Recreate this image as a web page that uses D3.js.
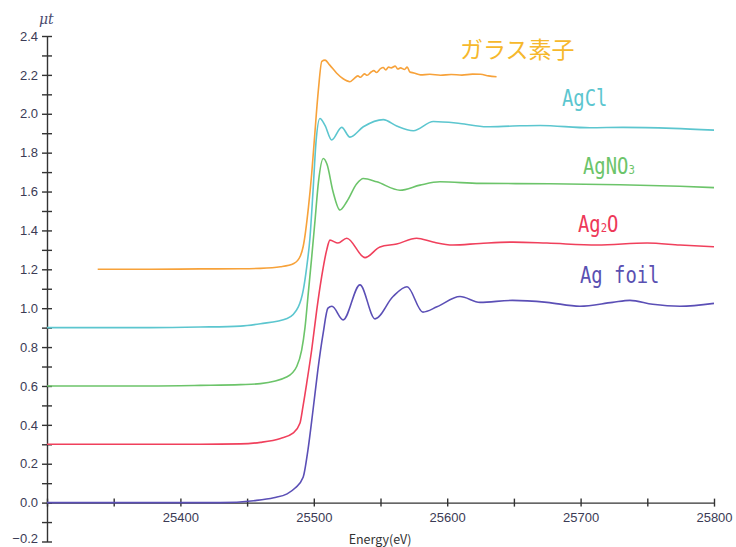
<!DOCTYPE html>
<html>
<head>
<meta charset="utf-8">
<script src="https://cdn.jsdelivr.net/npm/d3@7"></script>
<style>
  body { margin: 0; background: #fff; }
  svg { display: block; }
  .axis path, .axis line { stroke: #333; stroke-width: 1.4; }
  .axis text { font-family: "Liberation Sans", Arial, sans-serif; font-size: 13px; fill: #3b3b55; }
</style>
</head>
<body>
<div id="vis"></div>
<script>
// energies (eV) and mu*t values, one pair of arrays per sample
var glassE  = [25338, 25377, 25415, 25445, 25460, 25475, 25485, 25490, 25492, 25496, 25498.4, 25500.4, 25503.4, 25506, 25508.4, 25512, 25517, 25522, 25527,
               25530, 25533, 25535, 25538, 25540, 25543, 25545, 25547, 25550, 25552, 25554, 25556, 25558, 25561, 25563, 25565, 25568, 25570, 25572, 25575, 25580, 25587, 25595, 25603, 25611, 25619, 25625, 25631, 25637];
var glassMu = [1.20, 1.20, 1.202, 1.203, 1.205, 1.213, 1.23, 1.27, 1.316, 1.52, 1.69, 1.865, 2.12, 2.27, 2.276, 2.25, 2.21, 2.18, 2.165,
               2.18, 2.195, 2.188, 2.205, 2.198, 2.215, 2.222, 2.212, 2.232, 2.238, 2.226, 2.24, 2.236, 2.245, 2.23, 2.236, 2.228, 2.24, 2.215, 2.21, 2.20, 2.203, 2.198, 2.202, 2.199, 2.204, 2.203, 2.195, 2.19];

var agclE  = [25300, 25377, 25415, 25445, 25460, 25480, 25488.4, 25492.1, 25494.7, 25497.1, 25499.4, 25501.6, 25504.6, 25508.4, 25513.4, 25520.9, 25527.1, 25537.1, 25552.1, 25562.1, 25574.6, 25589.6, 25609.6, 25629.6, 25649.3, 25669.6, 25707, 25731.8, 25769.3, 25800];
var agclMu = [0.90, 0.90, 0.903, 0.908, 0.92, 0.947, 1.007, 1.093, 1.213, 1.36, 1.60, 1.85, 1.976, 1.94, 1.865, 1.93, 1.88, 1.933, 1.97, 1.937, 1.913, 1.96, 1.95, 1.933, 1.937, 1.94, 1.928, 1.93, 1.925, 1.916];

var agno3E  = [25300, 25377, 25415, 25445, 25460, 25480, 25487.2, 25490.9, 25493.4, 25495.9, 25498.4, 25500.9, 25503.5, 25507.1, 25509.9, 25514.4, 25519.6, 25524.9, 25532.2, 25537.1, 25547.2, 25564.6, 25579.6, 25594.6, 25624.6, 25677, 25729.5, 25774.5, 25800];
var agno3Mu = [0.60, 0.60, 0.603, 0.607, 0.612, 0.647, 0.70, 0.784, 0.90, 1.08, 1.26, 1.45, 1.65, 1.77, 1.74, 1.60, 1.505, 1.55, 1.64, 1.667, 1.65, 1.607, 1.633, 1.65, 1.642, 1.64, 1.635, 1.627, 1.62];

var ag2oE  = [25300, 25415, 25445, 25460, 25475, 25484.4, 25489.6, 25491.9, 25494.7, 25498.4, 25502.2, 25505.9, 25509.7, 25512.1, 25518.1, 25524.7, 25538.4, 25549.6, 25562.1, 25577.1, 25589.3, 25604.3, 25624.6, 25649.3, 25674.8, 25712.3, 25749.8, 25774.5, 25800];
var ag2oMu = [0.30, 0.30, 0.302, 0.31, 0.33, 0.357, 0.408, 0.495, 0.615, 0.785, 0.99, 1.162, 1.30, 1.35, 1.335, 1.36, 1.26, 1.315, 1.33, 1.36, 1.34, 1.325, 1.333, 1.34, 1.335, 1.325, 1.335, 1.325, 1.316];

var agfoilE  = [25300, 25430, 25455, 25470, 25480, 25486, 25492, 25495.6, 25499.4, 25503, 25507, 25510.6, 25513.6, 25522, 25534.6, 25545.9, 25559.4, 25569.9, 25581.8, 25592.3, 25609.6, 25624.6, 25649, 25674.8, 25699.5, 25724, 25737, 25754, 25774.5, 25800];
var agfoilMu = [0.0, 0.0, 0.01, 0.025, 0.045, 0.075, 0.13, 0.27, 0.475, 0.68, 0.87, 1.0, 1.01, 0.94, 1.12, 0.945, 1.06, 1.11, 0.98, 1.007, 1.06, 1.03, 1.04, 1.03, 1.01, 1.03, 1.04, 1.02, 1.01, 1.025];

var seriesNames  = ["ガラス素子", "AgCl", "AgNO3", "Ag2O", "Ag foil"];
var seriesColors = ["#f7a23a", "#5cc6cf", "#6cc46a", "#f0405c", "#5b4fb6"];
var labelColors  = ["#f6b82c", "#5cc6cf", "#6cc46a", "#ee3858", "#5a50b2"];

var xTicks = [25300, 25350, 25400, 25450, 25500, 25550, 25600, 25650, 25700, 25750, 25800];
var yTicks = [-0.2, -0.1, 0.0, 0.1, 0.2, 0.3, 0.4, 0.5, 0.6, 0.7, 0.8, 0.9, 1.0, 1.1, 1.2, 1.3, 1.4, 1.5, 1.6, 1.7, 1.8, 1.9, 2.0, 2.1, 2.2, 2.3, 2.4];

var width = 736, height = 547;
var svg = d3.select("#vis").append("svg").attr("width", width).attr("height", height);

var x = d3.scaleLinear().domain([25300, 25800]).range([47, 714]);
var y = d3.scaleLinear().domain([-0.2, 2.4]).range([541.5, 36]);

// x axis sits on mu t = 0
var xAxis = svg.append("g").attr("class", "axis")
  .attr("transform", "translate(0," + y(0) + ")")
  .call(d3.axisBottom(x).tickValues(xTicks).tickSizeOuter(0)
    .tickFormat(function(d){ return (d % 100 === 0 && d !== 25300) ? d : ""; }));
xAxis.selectAll(".tick line").attr("y1", -4).attr("y2", 4);
xAxis.selectAll(".tick text").attr("y", 10).attr("dy", "0.71em");

var yAxis = svg.append("g").attr("class", "axis")
  .attr("transform", "translate(" + x(25300) + ",0)")
  .call(d3.axisLeft(y).tickValues(yTicks).tickSizeOuter(0)
    .tickFormat(function(d){
      var k = Math.round(d * 10);
      if (k % 2 !== 0) return "";
      return d < 0 ? "\u2212" + (-d).toFixed(1) : d.toFixed(1);
    }));
yAxis.selectAll(".tick line").attr("x1", -5).attr("x2", 5);
yAxis.selectAll(".tick text").attr("x", -9);
// bottom label sits right at the window edge, nudge it up a touch
yAxis.selectAll(".tick text").filter(function(d){ return d < -0.15; }).attr("dy", "0.1em");

svg.append("text").attr("x", 39).attr("y", 24)
  .style("font-family", "'DejaVu Serif', serif").style("font-style", "italic")
  .style("font-size", "14px").style("fill", "#4a4a70").text("\u03bct");

svg.append("text").attr("x", 380).attr("y", 544).attr("text-anchor", "middle")
  .style("font-family", "'Noto Sans CJK JP', sans-serif").style("font-size", "12.5px")
  .style("fill", "#333").text("Energy(eV)");

var line = d3.line()
  .x(function(d){ return x(d[0]); })
  .y(function(d){ return y(d[1]); })
  .curve(d3.curveMonotoneX);

var allE  = [glassE, agclE, agno3E, ag2oE, agfoilE];
var allMu = [glassMu, agclMu, agno3Mu, ag2oMu, agfoilMu];

allE.forEach(function(es, i){
  var pts = es.map(function(e, j){ return [e, allMu[i][j]]; });
  svg.append("path").datum(pts)
    .attr("d", line)
    .attr("fill", "none")
    .attr("stroke", seriesColors[i])
    .attr("stroke-width", 1.6);
});

// labels next to the curves
svg.append("text").attr("x", 460).attr("y", 58)
  .style("font-family", "'Noto Sans CJK JP', sans-serif").style("font-size", "23px")
  .style("fill", labelColors[0]).text(seriesNames[0]);

function monoLabel(tx, ty, color, parts, sx){
  var t = svg.append("text")
    .attr("transform", "translate(" + tx + "," + ty + ") scale(" + sx + ",1)")
    .style("font-family", "'DejaVu Sans Mono', monospace").style("font-size", "23px")
    .style("fill", color);
  parts.forEach(function(p){
    var s = t.append("tspan").text(p[0]);
    if (p[1]) s.style("font-size", "13px");
  });
}
monoLabel(562, 106, labelColors[1], [["AgCl"]], 0.82);
monoLabel(583, 174, labelColors[2], [["AgNO"], ["3", true]], 0.82);
monoLabel(578, 232, labelColors[3], [["Ag"], ["2", true], ["O"]], 0.82);
monoLabel(580, 283, labelColors[4], [["Ag foil"]], 0.82);
</script>
</body>
</html>
